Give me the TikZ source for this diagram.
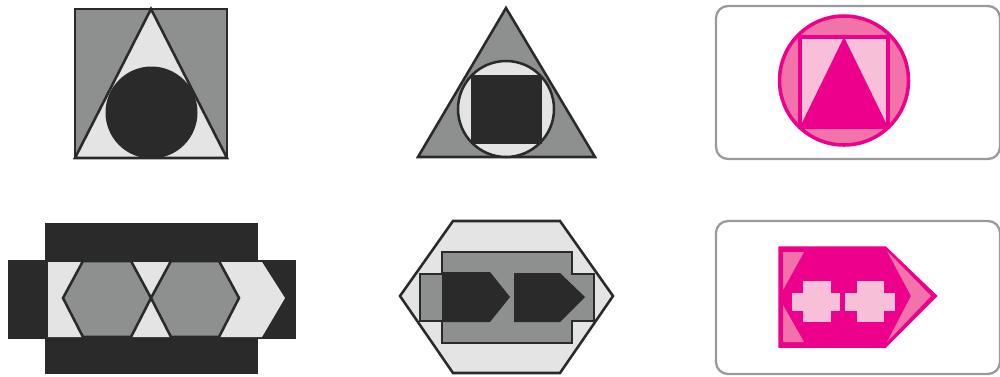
\documentclass[tikz,border=0pt]{standalone}
\usepackage{tikz}
\definecolor{dk}{HTML}{2A2A2A}
\definecolor{gr}{HTML}{8E8F8F}
\definecolor{lt}{HTML}{E4E4E4}
\definecolor{mag}{HTML}{EC008C}
\definecolor{mpink}{HTML}{F173AA}
\definecolor{lpink}{HTML}{F7BFD8}
\definecolor{frm}{HTML}{9A9A9A}
\tikzset{
  dkline/.style={draw=dk, line width=1.45pt, line join=miter},
  magline/.style={draw=mag, line width=2pt},
  panelframe/.style={draw=frm, line width=1.3pt, rounded corners=0.24cm},
}
\begin{document}
\begin{tikzpicture}[x=0.02cm, y=-0.02cm]
\useasboundingbox (0,0) rectangle (1000,376);
\clip (0,0) rectangle (1000,376);

% ---------- Panel 1: square, triangle, circle ----------
\fill[gr, dkline] (75,9) rectangle (227,158);
\fill[lt, dkline] (151,9) -- (227,158) -- (75,158) -- cycle;
\begin{scope}
  \clip (75,9) rectangle (227,158);
  \fill[dk] (151.5,112.5) circle (46);
\end{scope}
\draw[dkline] (75,9) rectangle (227,158);

% ---------- Panel 2: triangle, circle, square ----------
\fill[gr, dkline] (506,8) -- (595,157) -- (418,157) -- cycle;
\fill[lt, dkline] (506,109) circle (48);
\fill[dk] (471,75) rectangle (542,144);

% ---------- Panel 3: framed pink circle ----------
\draw[panelframe] (716,6) rectangle (1000,159);
\fill[mpink, magline] (844,80.5) circle (64.5);
\fill[lpink, magline] (800,37) rectangle (888,127);
\fill[mag] (844,37) -- (888,127) -- (800,127) -- cycle;

% ---------- Panel 4: bars, arrow, hexagons ----------
\fill[dk] (45,223) rectangle (258,262);
\fill[dk] (45,337) rectangle (258,374);
\fill[dk] (8,260) rectangle (296,339);
\fill[lt] (48,262) -- (262,262) -- (285,298) -- (262,337) -- (48,337) -- cycle;
\fill[gr, dkline] (63,298) -- (83,261) -- (131,261) -- (151,298) -- (131,337) -- (83,337) -- cycle;
\fill[gr, dkline] (151,298) -- (171,261) -- (219,261) -- (239,298) -- (219,337) -- (171,337) -- cycle;

% ---------- Panel 5: hexagon, cross shape, arrows ----------
\fill[lt, dkline] (400,296) -- (453,221) -- (560,221) -- (613,296) -- (560,373) -- (453,373) -- cycle;
\fill[gr, dkline] (442,252) -- (572,252) -- (572,274) -- (594,274) -- (594,321) -- (572,321)
  -- (572,343) -- (442,343) -- (442,321) -- (420,321) -- (420,274) -- (442,274) -- cycle;
\fill[dk] (442,272) -- (490,272) -- (510,297) -- (490,322) -- (442,322) -- cycle;
\fill[dk] (514,273) -- (560,273) -- (585,297) -- (560,322) -- (514,322) -- cycle;

% ---------- Panel 6: framed pink arrow with crosses ----------
\draw[panelframe] (716,221) rectangle (1000,374);
\fill[mag, magline] (780,248) -- (885,248) -- (935,296) -- (885,346) -- (780,346) -- cycle;
\fill[mpink] (783,252) -- (804,252) -- (783,290) -- cycle;
\fill[mpink] (783,305) -- (783,342) -- (804,342) -- cycle;
\fill[mpink] (887,251) -- (931,296) -- (887,342) -- (911,296) -- cycle;
\fill[lpink] (803,281) rectangle (831,322);
\fill[lpink] (792,293) rectangle (840,311);
\fill[lpink] (857,281) rectangle (884,322);
\fill[lpink] (845,293) rectangle (895,311);
\end{tikzpicture}
\end{document}
